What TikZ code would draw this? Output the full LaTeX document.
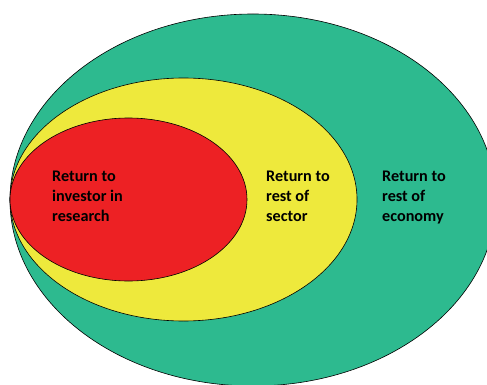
\documentclass[tikz,border=0pt]{standalone}
\usepackage{fontspec}
\setmainfont{Carlito}
\usetikzlibrary{shapes.geometric}
\definecolor{ecogreen}{RGB}{45,186,143}
\definecolor{secyellow}{RGB}{238,233,60}
\definecolor{invred}{RGB}{237,33,36}

\begin{document}
\begin{tikzpicture}[x=1pt, y=-1pt]
\tikzset{anneau/.style={draw, ellipse, inner sep=0pt, line width=0.6pt},
  etiq/.style={anchor=north west, inner sep=0pt, align=left,
    font=\fontsize{16.2}{20}\selectfont\bfseries}}
\useasboundingbox (0,0) rectangle (487,385);
\clip (0,0) rectangle (487,385);
\node[anneau, fill=ecogreen, minimum width=486pt, minimum height=372pt] (Eco) at (253,200) {};
\node[anneau, fill=secyellow, minimum width=347pt, minimum height=243pt] (Sec) at (183.5,199.5) {};
\node[anneau, fill=invred, minimum width=237pt, minimum height=163pt] (Inv) at (128.5,199.5) {};
\node[etiq] (T1) at (52,170.5) {Return to\\investor in\\research};
\node[etiq] (T2) at (266,170.5) {Return to\\rest of\\sector};
\node[etiq] (T3) at (382,170.5) {Return to\\rest of\\economy};
\end{tikzpicture}
\end{document}
